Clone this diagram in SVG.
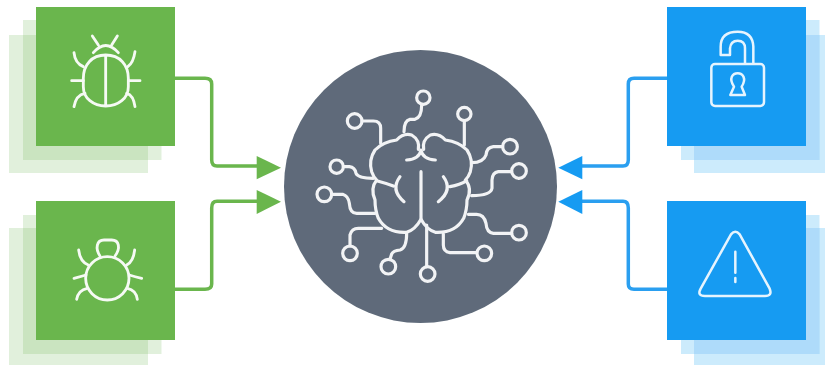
<svg xmlns="http://www.w3.org/2000/svg" width="825" height="365" viewBox="0 0 825 365">
<defs><filter id="soft" x="0" y="0" width="825" height="365" filterUnits="userSpaceOnUse"><feGaussianBlur stdDeviation=".45"/></filter></defs>
<style>
.g{fill:#6ab64e}.b{fill:#169bf2}
.gs{fill:#6ab64e;fill-opacity:.2}.bs{fill:#169bf2;fill-opacity:.2}
.i{fill:none;stroke:#f6faf4;stroke-width:8.500;stroke-linecap:round;stroke-linejoin:round}
.l{fill:none;stroke:#e6f4fe;stroke-width:7.500;stroke-linecap:round;stroke-linejoin:round}
.k{fill:none;stroke:#f2f3f5;stroke-width:9.500;stroke-linecap:round;stroke-linejoin:round}
.cg{fill:none;stroke:#6ab64e;stroke-width:3.500}.cb{fill:none;stroke:#2a9ff0;stroke-width:3.500}
.a{filter:url(#soft)}
</style>
<g class="a">
<g id="connectors">
<path class="cg" d="M175 78.300H205Q211.700 78.300 211.700 84V160Q211.700 166 217 166H260"/>
<path class="cg" d="M175 289.300H205Q211.700 289.300 211.700 284V208Q211.700 201.300 217 201.300H260"/>
<polygon class="g" points="256.700,156 256.700,179.300 281,167.700"/>
<polygon class="g" points="256.700,190 256.700,214 281,201.700"/>
<path class="cb" d="M667 78.300H634Q628.300 78.300 628.300 84V160Q628.300 166 623 166H580"/>
<path class="cb" d="M667 289.300H634Q628.300 289.300 628.300 284V208Q628.300 201.300 623 201.300H580"/>
<polygon class="b" points="582.300,156 582.300,179.300 558.300,167.700"/>
<polygon class="b" points="582.300,190 582.300,214 558.300,201.700"/>
</g>
<g id="bug-beetle">
<rect class="gs" x="9" y="35" width="139" height="138"/><rect class="gs" x="23" y="20" width="138.500" height="140"/>
<rect class="g" x="36" y="7" width="139" height="139"/>
<g transform="scale(.33333)" class="i">
<path d="M317 165C275 165 250 195 250 235V260C250 295 280 318 317 318C355 318 385 295 385 260V235C385 195 360 165 317 165ZM317 165V318"/>
<path d="M280 158Q317 115 355 158M277 108L295 135M352 108L335 135M215 242H250M385 242H420M222 158Q225 190 250 200M405 155Q400 190 383 200M222 320Q228 285 255 280M405 320Q400 285 380 280"/>
</g>
</g>
<g id="bug-round">
<rect class="gs" x="9" y="228" width="139" height="138"/><rect class="gs" x="23" y="215" width="138.500" height="139"/>
<rect class="g" x="36" y="201" width="139" height="139"/>
<g transform="scale(.33333)" class="i">
<circle cx="322" cy="835" r="65"/>
<path d="M300 768C285 745 290 720 312 720H335C358 720 362 745 345 768"/>
<path d="M236 750Q240 785 265 795M404 750Q400 785 380 795M222 835Q240 830 258 825M425 835Q405 830 388 825M230 898Q235 870 262 865M412 898Q408 870 382 865"/>
</g>
</g>
<g id="brain">
<circle cx="420.500" cy="186.500" r="136.500" fill="#5f6b7a"/>
<g transform="translate(280 60) scale(.33333)" class="k">
<path d="M415 268Q420 240 395 225Q370 218 350 240Q310 245 285 270Q265 300 275 335Q280 350 290 360Q270 385 285 420Q285 450 295 475Q320 520 380 517Q405 510 423 478Q441 510 466 517Q526 520 551 475Q561 450 561 420Q578 385 556 360Q566 350 571 335Q581 300 561 270Q536 245 496 240Q476 218 451 225Q426 240 431 268"/>
<path d="M380 300Q418 298 423 270Q428 298 466 300M423 335V478M290 362Q320 370 340 378M360 350Q330 390 372 425M490 350Q520 390 475 425M510 380Q540 375 560 362"/>
<circle cx="430" cy="113" r="20"/><path d="M425 135Q425 172 405 178H390Q372 182 372 215"/>
<circle cx="553" cy="162" r="20"/><path d="M553 182V255"/>
<circle cx="224" cy="183" r="22"/><path d="M246 183H280Q302 183 302 205V250"/>
<circle cx="690" cy="260" r="22"/><path d="M668 260H640Q620 262 618 285Q610 308 575 308"/>
<circle cx="717" cy="333" r="22"/><path d="M695 335H655Q637 338 636 360V385Q632 407 575 407"/>
<circle cx="170" cy="320" r="20"/><path d="M190 320H208Q225 322 228 340Q235 355 280 355"/>
<circle cx="133" cy="403" r="22"/><path d="M155 403H188Q205 408 208 430Q210 460 230 460H285"/>
<circle cx="717" cy="518" r="22"/><path d="M695 520H640Q620 518 618 490Q612 463 590 463H565"/>
<circle cx="210" cy="580" r="22"/><path d="M210 558V525Q215 505 235 505H305"/>
<circle cx="325" cy="620" r="22"/><path d="M330 598L335 582Q340 572 360 570Q380 565 380 520"/>
<circle cx="443" cy="642" r="22"/><path d="M440 620V495"/>
<circle cx="613" cy="580" r="22"/><path d="M590 578H510Q490 575 490 555V522"/>
</g>
</g>
<g id="lock">
<rect class="bs" x="694" y="35" width="139" height="138"/><rect class="bs" x="681" y="20" width="138.500" height="140"/>
<rect class="b" x="667" y="7" width="139" height="139"/>
<g transform="translate(550 0) scale(.33333)" class="l">
<rect x="484" y="192" width="158" height="126" rx="11"/>
<path d="M610 190V140Q608 95 563 95Q512 95 512 140V165H540V145Q542 122 563 122Q585 122 585 145V190"/>
<path d="M552 260C535 235 548 220 563 220C578 220 591 235 575 260L585 285H541Z"/>
</g>
</g>
<g id="warning">
<rect class="bs" x="694" y="228" width="139" height="138"/><rect class="bs" x="681" y="215" width="138.500" height="139"/>
<rect class="b" x="667" y="201" width="139" height="139"/>
<g transform="translate(550 0) scale(.33333)" class="l">
<path d="M543 703Q556 688 569 703L659 866Q668 888 645 888H465Q440 888 452 866Z"/>
<path d="M556 755V818M556 834V846"/>
</g>
</g>
</g>
</svg>
